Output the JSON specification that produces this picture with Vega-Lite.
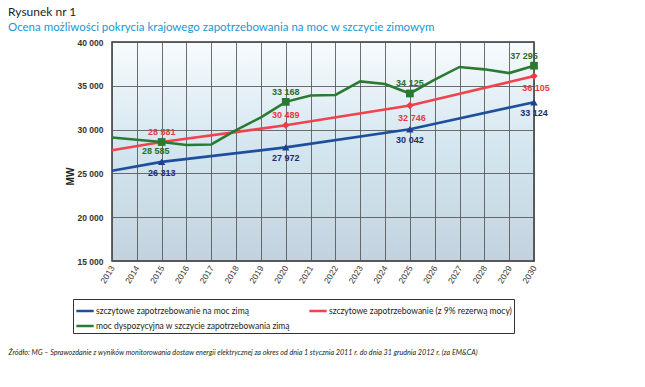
{
  "$schema": "https://vega.github.io/schema/vega-lite/v6.json",
  "autosize": {"type": "none"},
  "width": 422,
  "height": 219,
  "padding": {"left": 112, "top": 42, "right": 111, "bottom": 126},
  "background": "white",
  "title": {
    "text": "Rysunek nr 1",
    "subtitle": "Ocena możliwości pokrycia krajowego zapotrzebowania na moc w szczycie zimowym",
    "anchor": "start",
    "frame": "group",
    "dx": -104,
    "offset": 4,
    "font": "Lato",
    "fontSize": 12,
    "fontWeight": "normal",
    "color": "#231f20",
    "subtitleFont": "Lato",
    "subtitleFontSize": 11.5,
    "subtitleColor": "#1b96d3",
    "subtitlePadding": 3
  },
  "config": {
    "locale": {"number": {"decimal": ",", "thousands": " ", "grouping": [3], "currency": ["", " zł"]}},
    "view": {
      "fill": {"gradient": "linear", "x1": 0, "y1": 0, "x2": 0, "y2": 1,
        "stops": [{"offset": 0, "color": "#f7fbfd"}, {"offset": 0.5, "color": "#d3e5ef"}, {"offset": 1, "color": "#c2d3df"}]},
      "stroke": "#333333",
      "strokeWidth": 1.5
    },
    "axis": {"grid": true, "gridColor": "#555555", "gridWidth": 1, "gridOpacity": 0.85, "domain": false, "ticks": false},
    "legend": {
      "orient": "none",
      "legendX": -39,
      "legendY": 257,
      "columns": 2,
      "direction": "horizontal",
      "strokeColor": "#333333",
      "fillColor": "white",
      "padding": 2,
      "labelFont": "Lato",
      "labelFontSize": 8.5,
      "labelColor": "#222222",
      "labelLimit": 400,
      "labelOffset": 1,
      "symbolType": "stroke",
      "symbolSize": 300,
      "symbolStrokeWidth": 2.5,
      "columnPadding": 14,
      "rowPadding": -3
    }
  },
  "datasets": {
    "d": [
      {"year": "2013", "s": "szczytowe zapotrzebowanie na moc zimą", "v": 25300},
      {"year": "2015", "s": "szczytowe zapotrzebowanie na moc zimą", "v": 26313},
      {"year": "2020", "s": "szczytowe zapotrzebowanie na moc zimą", "v": 27972},
      {"year": "2025", "s": "szczytowe zapotrzebowanie na moc zimą", "v": 30042},
      {"year": "2030", "s": "szczytowe zapotrzebowanie na moc zimą", "v": 33124},
      {"year": "2013", "s": "szczytowe zapotrzebowanie (z 9% rezerwą mocy)", "v": 27650},
      {"year": "2015", "s": "szczytowe zapotrzebowanie (z 9% rezerwą mocy)", "v": 28581},
      {"year": "2020", "s": "szczytowe zapotrzebowanie (z 9% rezerwą mocy)", "v": 30489},
      {"year": "2025", "s": "szczytowe zapotrzebowanie (z 9% rezerwą mocy)", "v": 32746},
      {"year": "2030", "s": "szczytowe zapotrzebowanie (z 9% rezerwą mocy)", "v": 36105},
      {"year": "2013", "s": "moc dyspozycyjna w szczycie zapotrzebowania zimą", "v": 29100},
      {"year": "2014", "s": "moc dyspozycyjna w szczycie zapotrzebowania zimą", "v": 28850},
      {"year": "2015", "s": "moc dyspozycyjna w szczycie zapotrzebowania zimą", "v": 28585},
      {"year": "2016", "s": "moc dyspozycyjna w szczycie zapotrzebowania zimą", "v": 28250},
      {"year": "2017", "s": "moc dyspozycyjna w szczycie zapotrzebowania zimą", "v": 28300},
      {"year": "2018", "s": "moc dyspozycyjna w szczycie zapotrzebowania zimą", "v": 29950},
      {"year": "2019", "s": "moc dyspozycyjna w szczycie zapotrzebowania zimą", "v": 31400},
      {"year": "2020", "s": "moc dyspozycyjna w szczycie zapotrzebowania zimą", "v": 33168},
      {"year": "2021", "s": "moc dyspozycyjna w szczycie zapotrzebowania zimą", "v": 33900},
      {"year": "2022", "s": "moc dyspozycyjna w szczycie zapotrzebowania zimą", "v": 33950},
      {"year": "2023", "s": "moc dyspozycyjna w szczycie zapotrzebowania zimą", "v": 35500},
      {"year": "2024", "s": "moc dyspozycyjna w szczycie zapotrzebowania zimą", "v": 35200},
      {"year": "2025", "s": "moc dyspozycyjna w szczycie zapotrzebowania zimą", "v": 34125},
      {"year": "2026", "s": "moc dyspozycyjna w szczycie zapotrzebowania zimą", "v": 35700},
      {"year": "2027", "s": "moc dyspozycyjna w szczycie zapotrzebowania zimą", "v": 37150},
      {"year": "2028", "s": "moc dyspozycyjna w szczycie zapotrzebowania zimą", "v": 36880},
      {"year": "2029", "s": "moc dyspozycyjna w szczycie zapotrzebowania zimą", "v": 36450},
      {"year": "2030", "s": "moc dyspozycyjna w szczycie zapotrzebowania zimą", "v": 37295}
    ]
  },
  "data": {"name": "d"},
  "encoding": {
    "x": {
      "field": "year", "type": "ordinal",
      "scale": {"type": "point", "padding": 0, "domain": ["2013","2014","2015","2016","2017","2018","2019","2020","2021","2022","2023","2024","2025","2026","2027","2028","2029","2030"]},
      "axis": {
        "labelAngle": -58, "labelAlign": "right", "labelBaseline": "middle", "labelPadding": 5,
        "labelFont": "Liberation Sans", "labelFontSize": 8.5, "labelColor": "#333333",
        "title": "Źródło: MG – Sprawozdanie z wyników monitorowania dostaw energii elektrycznej za okres od dnia 1 stycznia 2011 r. do dnia 31 grudnia 2012 r. (za EM&CA)",
        "titleX": -104, "titleY": 91, "titleAlign": "left", "titleBaseline": "middle", "titleAngle": 0,
        "titleFont": "Lato", "titleFontSize": 7.2, "titleFontStyle": "italic", "titleFontWeight": "normal", "titleColor": "#231f20"
      }
    },
    "y": {
      "field": "v", "type": "quantitative",
      "scale": {"domain": [15000, 40000], "nice": false, "zero": false},
      "axis": {
        "values": [15000, 20000, 25000, 30000, 35000, 40000], "format": ",d",
        "labelFont": "Liberation Sans", "labelFontSize": 8.5, "labelFontWeight": "bold", "labelColor": "#333333", "labelPadding": 9,
        "title": "MW", "titleX": -42, "titleY": 134, "titleAngle": 270, "titleAlign": "center", "titleBaseline": "middle",
        "titleFont": "Liberation Sans", "titleFontSize": 10, "titleFontWeight": "bold", "titleColor": "#222222"
      }
    }
  },
  "layer": [
    {
      "mark": {"type": "line", "strokeWidth": 2.6},
      "encoding": {
        "color": {
          "field": "s", "type": "nominal", "title": null,
          "scale": {
            "domain": ["szczytowe zapotrzebowanie na moc zimą", "szczytowe zapotrzebowanie (z 9% rezerwą mocy)", "moc dyspozycyjna w szczycie zapotrzebowania zimą"],
            "range": ["#1d4f9c", "#f0434e", "#2a7b32"]
          }
        }
      }
    },
    {
      "transform": [{"filter": {"field": "s", "equal": "szczytowe zapotrzebowanie na moc zimą"}}, {"filter": {"field": "year", "oneOf": ["2015", "2020", "2025", "2030"]}}],
      "mark": {"type": "point", "shape": "triangle-up", "filled": true, "size": 55, "color": "#1f3f8f", "opacity": 1}
    },
    {
      "transform": [{"filter": {"field": "s", "equal": "szczytowe zapotrzebowanie (z 9% rezerwą mocy)"}}, {"filter": {"field": "year", "oneOf": ["2015", "2020", "2025", "2030"]}}],
      "mark": {"type": "point", "shape": "diamond", "filled": true, "size": 55, "color": "#ee3b45", "opacity": 1}
    },
    {
      "transform": [{"filter": {"field": "s", "equal": "moc dyspozycyjna w szczycie zapotrzebowania zimą"}}, {"filter": {"field": "year", "oneOf": ["2015", "2020", "2025", "2030"]}}],
      "mark": {"type": "point", "shape": "square", "filled": true, "size": 60, "color": "#277a2e", "opacity": 1}
    },
    {
      "transform": [{"filter": {"field": "s", "equal": "szczytowe zapotrzebowanie na moc zimą"}}, {"filter": {"field": "year", "oneOf": ["2015", "2020", "2025", "2030"]}}],
      "mark": {"type": "text", "dy": 11, "font": "Liberation Sans", "fontSize": 9, "fontWeight": "bold", "color": "#232c6b", "baseline": "middle"},
      "encoding": {"text": {"field": "v", "type": "quantitative", "format": ",d"}}
    },
    {
      "transform": [{"filter": {"field": "s", "equal": "szczytowe zapotrzebowanie (z 9% rezerwą mocy)"}}, {"filter": {"field": "year", "oneOf": ["2015", "2020"]}}],
      "mark": {"type": "text", "dy": -10, "font": "Liberation Sans", "fontSize": 9, "fontWeight": "bold", "color": "#e63a44", "baseline": "middle"},
      "encoding": {"text": {"field": "v", "type": "quantitative", "format": ",d"}}
    },
    {
      "transform": [{"filter": {"field": "s", "equal": "szczytowe zapotrzebowanie (z 9% rezerwą mocy)"}}, {"filter": {"field": "year", "oneOf": ["2025", "2030"]}}],
      "mark": {"type": "text", "dy": 12, "dx": 2, "font": "Liberation Sans", "fontSize": 9, "fontWeight": "bold", "color": "#e63a44", "baseline": "middle"},
      "encoding": {"text": {"field": "v", "type": "quantitative", "format": ",d"}}
    },
    {
      "transform": [{"filter": {"field": "s", "equal": "moc dyspozycyjna w szczycie zapotrzebowania zimą"}}, {"filter": {"field": "year", "oneOf": ["2015"]}}],
      "mark": {"type": "text", "dy": 9, "dx": -6, "font": "Liberation Sans", "fontSize": 9, "fontWeight": "bold", "color": "#2d6b2d", "baseline": "middle"},
      "encoding": {"text": {"field": "v", "type": "quantitative", "format": ",d"}}
    },
    {
      "transform": [{"filter": {"field": "s", "equal": "moc dyspozycyjna w szczycie zapotrzebowania zimą"}}, {"filter": {"field": "year", "oneOf": ["2020", "2025"]}}],
      "mark": {"type": "text", "dy": -10, "font": "Liberation Sans", "fontSize": 9, "fontWeight": "bold", "color": "#2d6b2d", "baseline": "middle"},
      "encoding": {"text": {"field": "v", "type": "quantitative", "format": ",d"}}
    },
    {
      "transform": [{"filter": {"field": "s", "equal": "moc dyspozycyjna w szczycie zapotrzebowania zimą"}}, {"filter": {"field": "year", "oneOf": ["2030"]}}],
      "mark": {"type": "text", "dy": -10, "dx": -10, "font": "Liberation Sans", "fontSize": 9, "fontWeight": "bold", "color": "#2d6b2d", "baseline": "middle"},
      "encoding": {"text": {"field": "v", "type": "quantitative", "format": ",d"}}
    }
  ]
}
